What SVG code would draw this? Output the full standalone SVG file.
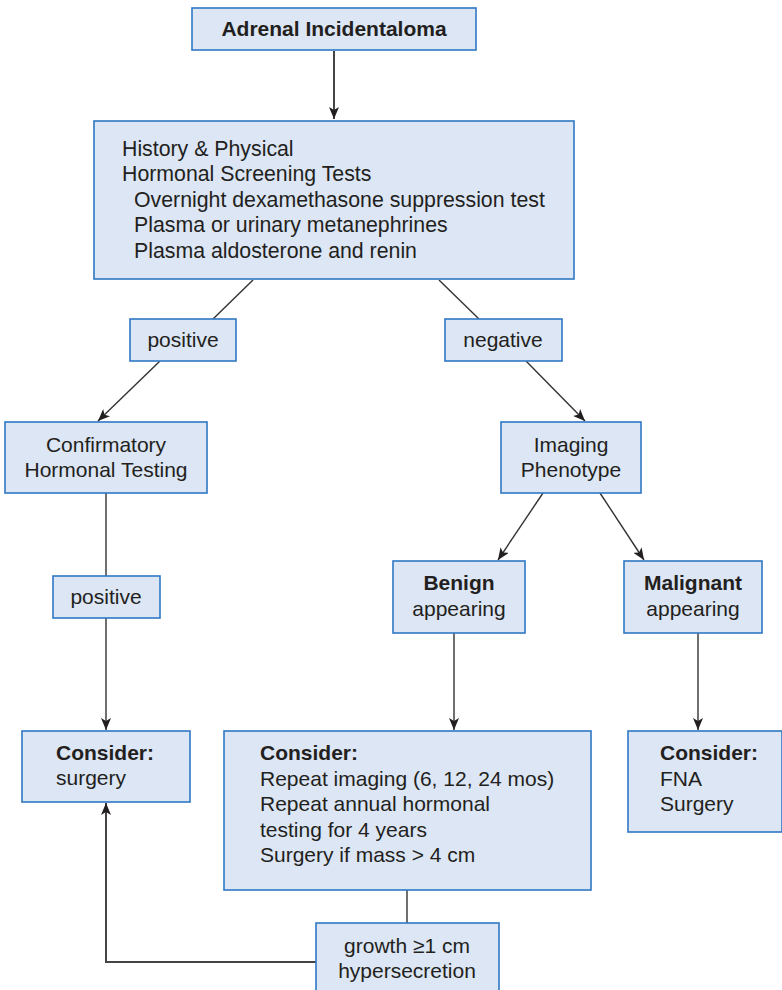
<svg xmlns="http://www.w3.org/2000/svg" width="782" height="990" viewBox="0 0 782 990">
<defs>
<style>
.box{fill:#dce6f4;stroke:#2f78c4;stroke-width:1.6}
.t{font-family:"Liberation Sans",Arial,sans-serif;font-size:21px;fill:#231f20}
.w{font-size:21.3px}
.b{font-weight:bold}
.c{text-anchor:middle}
.ln{fill:none;stroke:#333;stroke-width:1.4}
.lt{fill:none;stroke:#444;stroke-width:2}
</style>
<marker id="ah" markerUnits="userSpaceOnUse" markerWidth="12" markerHeight="10" viewBox="0 0 12 10" refX="12" refY="5" orient="auto">
<path d="M0,0 L12,5 L0,10 L3,5 Z" fill="#231f20"/>
</marker>
</defs>
<rect width="782" height="990" fill="#fff"/>
<g id="connectors">
<line class="lt" x1="334" y1="51" x2="334" y2="119" marker-end="url(#ah)"/>
<line class="ln" x1="253" y1="280" x2="213" y2="319"/>
<line class="ln" x1="439" y1="280" x2="479" y2="319"/>
<line class="ln" x1="160" y1="361" x2="98" y2="421" marker-end="url(#ah)"/>
<line class="ln" x1="526" y1="361" x2="585" y2="421" marker-end="url(#ah)"/>
<line class="ln" x1="106" y1="493" x2="106" y2="576"/>
<line class="ln" x1="106" y1="618" x2="106" y2="730" marker-end="url(#ah)"/>
<line class="ln" x1="543" y1="493" x2="498" y2="560" marker-end="url(#ah)"/>
<line class="ln" x1="600" y1="493" x2="644" y2="560" marker-end="url(#ah)"/>
<line class="ln" x1="454" y1="633" x2="454" y2="730" marker-end="url(#ah)"/>
<line class="ln" x1="698" y1="633" x2="698" y2="730" marker-end="url(#ah)"/>
<line class="ln" x1="407" y1="890" x2="407" y2="923"/>
<polyline class="lt" points="316,962 106,962 106,803" marker-end="url(#ah)"/>
</g>
<g id="adrenal">
<rect class="box" x="192" y="8" width="284" height="42"/>
<text class="t b c" x="334" y="36">Adrenal Incidentaloma</text>
</g>
<g id="screening">
<rect class="box" x="94" y="121" width="480" height="158"/>
<text class="t w" x="122" y="156">History &amp; Physical</text>
<text class="t w" x="122" y="181">Hormonal Screening Tests</text>
<text class="t w" x="134" y="207">Overnight dexamethasone suppression test</text>
<text class="t w" x="134" y="232">Plasma or urinary metanephrines</text>
<text class="t w" x="134" y="258">Plasma aldosterone and renin</text>
</g>
<g id="positive1">
<rect class="box" x="130" y="319" width="106" height="42"/>
<text class="t c" x="183" y="347">positive</text>
</g>
<g id="negative">
<rect class="box" x="445" y="319" width="117" height="42"/>
<text class="t c" x="503" y="347">negative</text>
</g>
<g id="confirmatory">
<rect class="box" x="5" y="422" width="202" height="71"/>
<text class="t c" x="106" y="452">Confirmatory</text>
<text class="t c" x="106" y="477">Hormonal Testing</text>
</g>
<g id="imaging">
<rect class="box" x="501" y="422" width="140" height="71"/>
<text class="t c" x="571" y="452">Imaging</text>
<text class="t c" x="571" y="477">Phenotype</text>
</g>
<g id="positive2">
<rect class="box" x="53" y="576" width="107" height="42"/>
<text class="t c" x="106" y="604">positive</text>
</g>
<g id="benign">
<rect class="box" x="393" y="561" width="132" height="72"/>
<text class="t b c" x="459" y="590">Benign</text>
<text class="t c" x="459" y="616">appearing</text>
</g>
<g id="malignant">
<rect class="box" x="624" y="561" width="138" height="72"/>
<text class="t b c" x="693" y="590">Malignant</text>
<text class="t c" x="693" y="616">appearing</text>
</g>
<g id="consider-surgery">
<rect class="box" x="22" y="731" width="168" height="71"/>
<text class="t b" x="56" y="760">Consider:</text>
<text class="t" x="56" y="785">surgery</text>
</g>
<g id="consider-benign">
<rect class="box" x="224" y="731" width="367" height="159"/>
<text class="t b" x="260" y="760">Consider:</text>
<text class="t" x="260" y="786">Repeat imaging (6, 12, 24 mos)</text>
<text class="t" x="260" y="811">Repeat annual hormonal</text>
<text class="t" x="260" y="837">testing for 4 years</text>
<text class="t" x="260" y="862">Surgery if mass &gt; 4 cm</text>
</g>
<g id="consider-malignant">
<rect class="box" x="628" y="731" width="154" height="101"/>
<text class="t b" x="660" y="760">Consider:</text>
<text class="t" x="660" y="786">FNA</text>
<text class="t" x="660" y="811">Surgery</text>
</g>
<g id="growth">
<rect class="box" x="316" y="923" width="183" height="70"/>
<text class="t c" x="407" y="953">growth ≥1 cm</text>
<text class="t c" x="407" y="978">hypersecretion</text>
</g>
</svg>
